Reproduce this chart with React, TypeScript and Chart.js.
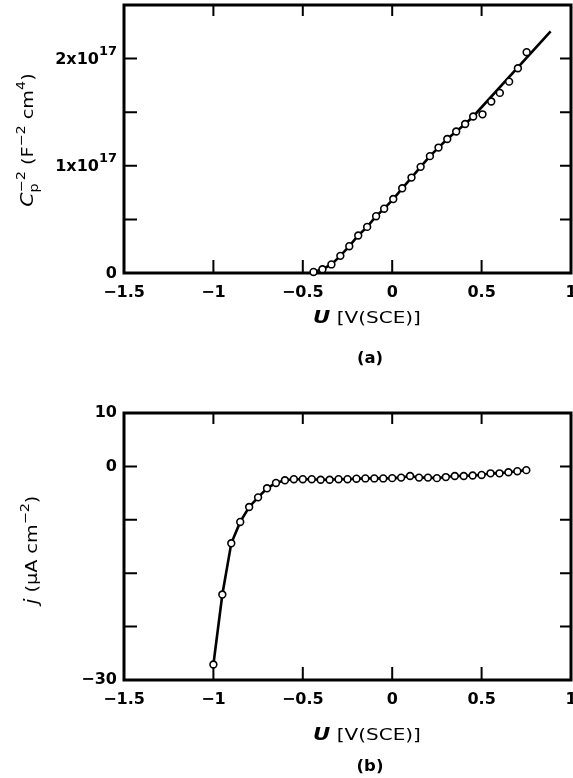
import React, { useEffect, useRef } from "react";
import { Chart, registerables } from "chart.js";

Chart.register(...registerables);

// ---------- data ----------
const xTickValues = [-1.5, -1, -0.5, 0, 0.5, 1];
const xTickLabels = ["\u22121.5", "\u22121", "\u22120.5", "0", "0.5", "1"];

// (a) Mott-Schottky data (measured points)
const capU = [
  -0.44, -0.39, -0.34, -0.29, -0.24, -0.19, -0.14, -0.09, -0.045, 0.006, 0.056,
  0.108, 0.159, 0.211, 0.259, 0.308, 0.358, 0.408, 0.453, 0.505, 0.554, 0.602,
  0.654, 0.703, 0.752,
];
const capVals = [
  0.01e17, 0.035e17, 0.08e17, 0.16e17, 0.25e17, 0.35e17, 0.43e17, 0.53e17,
  0.6e17, 0.69e17, 0.79e17, 0.89e17, 0.99e17, 1.09e17, 1.17e17, 1.25e17,
  1.32e17, 1.39e17, 1.46e17, 1.48e17, 1.6e17, 1.68e17, 1.785e17, 1.91e17,
  2.06e17,
];
// (a) drawn curve (through the low-potential points, then straight extrapolation)
const curveU = [
  -0.44, -0.39, -0.34, -0.29, -0.24, -0.19, -0.14, -0.09, -0.045, 0.006, 0.056,
  0.108, 0.159, 0.211, 0.259, 0.308, 0.358, 0.408, 0.453, 0.886,
];
const curveVals = [
  0.01e17, 0.035e17, 0.08e17, 0.16e17, 0.25e17, 0.35e17, 0.43e17, 0.53e17,
  0.6e17, 0.69e17, 0.79e17, 0.89e17, 0.99e17, 1.09e17, 1.17e17, 1.25e17,
  1.32e17, 1.39e17, 1.46e17, 2.255e17,
];
const capTickValues = [0, 0.5e17, 1e17, 1.5e17, 2e17, 2.5e17];
const capTickMain = ["0", "", "1x10", "", "2x10", ""];
const capTickSup = ["", "", "17", "", "17", ""];

// (b) current density data
const jU = [
  -1.0, -0.95, -0.9, -0.85, -0.8, -0.75, -0.7, -0.65, -0.6, -0.55, -0.5, -0.45,
  -0.4, -0.35, -0.3, -0.25, -0.2, -0.15, -0.1, -0.05, 0.0, 0.05, 0.1, 0.15, 0.2,
  0.25, 0.3, 0.35, 0.4, 0.45, 0.5, 0.55, 0.6, 0.65, 0.7, 0.75,
];
const jVals = [
  -37.1, -24.0, -14.4, -10.4, -7.6, -5.8, -4.1, -3.1, -2.6, -2.4, -2.4, -2.4,
  -2.5, -2.5, -2.4, -2.4, -2.3, -2.25, -2.25, -2.25, -2.2, -2.1, -1.8, -2.1,
  -2.1, -2.2, -2.0, -1.8, -1.8, -1.7, -1.6, -1.3, -1.3, -1.1, -0.9, -0.7,
];
const jTickValues = [-40, -30, -20, -10, 0, 10];
const jTickLabels = ["\u221230", "", "", "", "0", "10"];

// ---------- helpers ----------
const FONT = "'DejaVu Sans', 'Liberation Sans', Arial, sans-serif";

type Run = {
  t: string;
  size: number;
  style?: string;
  weight?: string;
  dy?: number;
  stack?: boolean;
};

function drawRuns(
  ctx: CanvasRenderingContext2D,
  runs: Run[],
  cx: number,
  cy: number,
  rotate: boolean,
  sx: number
) {
  ctx.save();
  ctx.translate(cx, cy);
  if (rotate) ctx.rotate(-Math.PI / 2);
  ctx.scale(sx, 1);
  ctx.fillStyle = "#000";
  ctx.textBaseline = "alphabetic";
  ctx.textAlign = "left";
  const starts: number[] = [];
  let prevStart = 0;
  let prevEnd = 0;
  runs.forEach((r) => {
    ctx.font = `${r.style || "normal"} ${r.weight || "normal"} ${r.size}px ${FONT}`;
    const w = ctx.measureText(r.t).width;
    let s: number, e: number;
    if (r.stack) {
      s = prevStart;
      e = Math.max(prevEnd, s + w);
    } else {
      s = prevEnd;
      e = s + w;
    }
    starts.push(s);
    prevStart = s;
    prevEnd = e;
  });
  const total = prevEnd;
  runs.forEach((r, i) => {
    ctx.font = `${r.style || "normal"} ${r.weight || "normal"} ${r.size}px ${FONT}`;
    ctx.fillText(r.t, starts[i] - total / 2, 6 + (r.dy || 0));
  });
  ctx.restore();
}

const framePlugin = {
  id: "frame",
  beforeDatasetsDraw(chart: any) {
    const { ctx, chartArea: a, scales } = chart;
    const x = scales.x;
    const y = scales.y;
    ctx.save();
    ctx.strokeStyle = "#000";
    ctx.lineWidth = 2;
    ctx.beginPath();
    x.ticks.forEach((t: any) => {
      const px = x.getPixelForValue(t.value);
      if (px <= a.left + 1 || px >= a.right - 1) return;
      ctx.moveTo(px, a.bottom);
      ctx.lineTo(px, a.bottom - 13);
      ctx.moveTo(px, a.top);
      ctx.lineTo(px, a.top + 11);
    });
    y.ticks.forEach((t: any) => {
      const py = y.getPixelForValue(t.value);
      if (py <= a.top + 1 || py >= a.bottom - 1) return;
      ctx.moveTo(a.left, py);
      ctx.lineTo(a.left + 13, py);
      ctx.moveTo(a.right, py);
      ctx.lineTo(a.right - 11, py);
    });
    ctx.stroke();
    ctx.lineWidth = 3;
    ctx.strokeRect(a.left, a.top, a.right - a.left, a.bottom - a.top);
    ctx.restore();
  },
};

function xScale(height: number) {
  return {
    type: "linear",
    min: -1.5,
    max: 1,
    afterBuildTicks: (s: any) => {
      s.ticks = xTickValues.map((v) => ({ value: v }));
    },
    afterFit: (s: any) => {
      s.height = height;
      s.paddingLeft = 0;
      s.paddingRight = 0;
    },
    grid: { display: false, drawTicks: false },
    border: { display: false },
    ticks: {
      autoSkip: false,
      maxRotation: 0,
      padding: 10,
      color: "#000",
      font: { family: FONT, size: 16, weight: "bold" },
      callback: (v: number) => {
        const i = xTickValues.findIndex((t) => Math.abs(t - v) < 1e-9);
        return i >= 0 ? xTickLabels[i] : "";
      },
    },
  };
}

function MottChart() {
  const ref = useRef<HTMLCanvasElement>(null);
  useEffect(() => {
    if (!ref.current) return;
    const titles = {
      id: "titles",
      afterDraw(chart: any) {
        const ctx = chart.ctx;
        const y = chart.scales.y;
        // y tick labels with superscript exponent
        ctx.save();
        ctx.fillStyle = "#000";
        ctx.textBaseline = "middle";
        ctx.textAlign = "right";
        capTickValues.forEach((v, i) => {
          const main = capTickMain[i];
          if (!main) return;
          const py = y.getPixelForValue(v);
          const right = chart.chartArea.left - 7;
          let supW = 0;
          if (capTickSup[i]) {
            ctx.font = `bold 13px ${FONT}`;
            supW = ctx.measureText(capTickSup[i]).width;
            ctx.fillText(capTickSup[i], right, py - 7);
          }
          ctx.font = `bold 16px ${FONT}`;
          ctx.fillText(main, right - supW, py + 1);
        });
        ctx.restore();
        drawRuns(
          ctx,
          [
            { t: "C", size: 17, style: "italic" },
            { t: "p", size: 12, dy: 5 },
            { t: "\u22122", size: 12, dy: -8, stack: true },
            { t: " (F", size: 16 },
            { t: "\u22122", size: 12, dy: -8 },
            { t: " cm", size: 16 },
            { t: "4", size: 12, dy: -8 },
            { t: ")", size: 16 },
          ],
          27,
          140,
          true,
          1.2
        );
        drawRuns(
          ctx,
          [
            { t: "U", size: 17, style: "italic", weight: "bold" },
            { t: " [V(SCE)]", size: 16 },
          ],
          367,
          317,
          false,
          1.25
        );
        drawRuns(ctx, [{ t: "(a)", size: 15, weight: "bold" }], 370, 357, false, 1.1);
      },
    };
    const chart = new Chart(ref.current, {
      type: "scatter",
      data: {
        datasets: [
          {
            data: capU.map((u, i) => ({ x: u, y: capVals[i] })),
            showLine: false,
            pointRadius: 3.4,
            pointBorderWidth: 1.6,
            pointBackgroundColor: "#fff",
            pointBorderColor: "#000",
            clip: false,
          },
          {
            data: curveU.map((u, i) => ({ x: u, y: curveVals[i] })),
            showLine: true,
            borderColor: "#000",
            borderWidth: 2.6,
            pointRadius: 0,
            clip: false,
          },
        ],
      },
      options: {
        animation: false,
        responsive: false,
        events: [],
        layout: { autoPadding: false, padding: { top: 5, right: 2, left: 0, bottom: 0 } },
        plugins: { legend: { display: false }, tooltip: { enabled: false } },
        scales: {
          x: xScale(390 - 273) as any,
          y: {
            type: "linear",
            min: 0,
            max: 2.5e17,
            afterBuildTicks: (s: any) => {
              s.ticks = capTickValues.map((v) => ({ value: v }));
            },
            afterFit: (s: any) => {
              s.width = 124;
              s.paddingTop = 0;
              s.paddingBottom = 0;
            },
            grid: { display: false, drawTicks: false },
            border: { display: false },
            ticks: { display: false },
          },
        },
      },
      plugins: [framePlugin, titles],
    });
    return () => chart.destroy();
  }, []);
  return <canvas ref={ref} width={573} height={390} style={{ display: "block", width: 573, height: 390 }} />;
}

function CurrentChart() {
  const ref = useRef<HTMLCanvasElement>(null);
  useEffect(() => {
    if (!ref.current) return;
    const titles = {
      id: "titles",
      afterDraw(chart: any) {
        const ctx = chart.ctx;
        drawRuns(
          ctx,
          [
            { t: "j", size: 17, style: "italic" },
            { t: " (\u00B5A cm", size: 16 },
            { t: "\u22122", size: 12, dy: -8 },
            { t: ")", size: 16 },
          ],
          31,
          160,
          true,
          1.2
        );
        drawRuns(
          ctx,
          [
            { t: "U", size: 17, style: "italic", weight: "bold" },
            { t: " [V(SCE)]", size: 16 },
          ],
          367,
          344,
          false,
          1.25
        );
        drawRuns(ctx, [{ t: "(b)", size: 15, weight: "bold" }], 370, 375, false, 1.1);
      },
    };
    const chart = new Chart(ref.current, {
      type: "scatter",
      data: {
        datasets: [
          {
            data: jU.map((u, i) => ({ x: u, y: jVals[i] })),
            showLine: true,
            borderColor: "#000",
            borderWidth: 2.6,
            pointRadius: 3.4,
            pointBorderWidth: 1.6,
            pointBackgroundColor: "#fff",
            pointBorderColor: "#000",
            clip: false,
          },
        ],
      },
      options: {
        animation: false,
        responsive: false,
        events: [],
        layout: { autoPadding: false, padding: { top: 23, right: 2, left: 0, bottom: 0 } },
        plugins: { legend: { display: false }, tooltip: { enabled: false } },
        scales: {
          x: xScale(388 - 290) as any,
          y: {
            type: "linear",
            min: -40,
            max: 10,
            afterBuildTicks: (s: any) => {
              s.ticks = jTickValues.map((v) => ({ value: v }));
            },
            afterFit: (s: any) => {
              s.width = 124;
              s.paddingTop = 0;
              s.paddingBottom = 0;
            },
            grid: { display: false, drawTicks: false },
            border: { display: false },
            ticks: {
              autoSkip: false,
              padding: 7,
              color: "#000",
              font: { family: FONT, size: 16, weight: "bold" },
              callback: (v: number) => {
                const i = jTickValues.findIndex((t) => Math.abs(t - v) < 1e-9);
                return i >= 0 ? jTickLabels[i] : "";
              },
            },
          },
        },
      },
      plugins: [framePlugin, titles],
    });
    return () => chart.destroy();
  }, []);
  return <canvas ref={ref} width={573} height={388} style={{ display: "block", width: 573, height: 388 }} />;
}

export default function App() {
  return (
    <div style={{ position: "absolute", left: 0, top: 0, width: 573, height: 778, background: "#fff" }}>
      <MottChart />
      <CurrentChart />
    </div>
  );
}
